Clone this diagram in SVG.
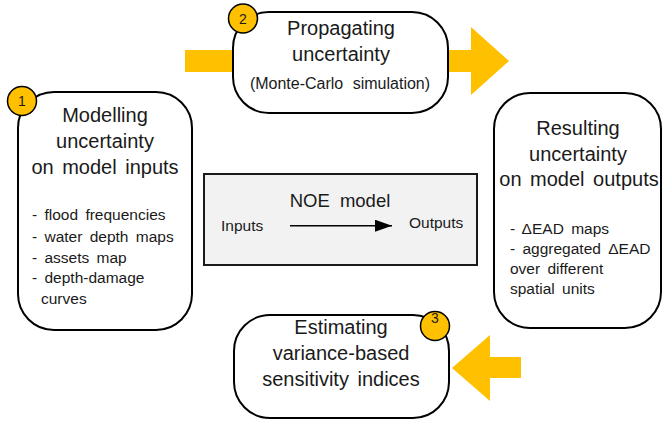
<svg xmlns="http://www.w3.org/2000/svg" width="663" height="423" viewBox="0 0 663 423">
<defs>
<style>
text{font-family:"Liberation Sans",Arial,sans-serif;fill:#1a1a1a}
.box{fill:#fff;stroke:#000;stroke-width:2}
.title{font-size:20px;text-anchor:middle;word-spacing:3px}
.item{font-size:15.5px;word-spacing:3px}
.badge{fill:#FFC000;stroke:#000;stroke-width:1.5}
.num{font-size:14px;text-anchor:middle}
.big{fill:#FFC000}
</style>
<marker id="ah" markerWidth="17" markerHeight="12" refX="17" refY="6" orient="auto" markerUnits="userSpaceOnUse">
<path d="M0,0 L17,6 L0,12 Z" fill="#000"/>
</marker>
</defs>
<rect width="663" height="423" fill="#fff"/>
<g id="connectors">
<polygon class="big" points="185,50 471,50 471,27 509,61 471,95 471,72 185,72"/>
<polygon class="big" points="521,357 490,357 490,335 452,368 490,401 490,378 521,378"/>
</g>
<g id="node-modelling">
<rect class="box" x="18" y="92" width="174" height="238" rx="36" ry="36"/>
<text class="title" x="105" y="122">Modelling</text>
<text class="title" x="105" y="148">uncertainty</text>
<text class="title" x="105" y="174">on model inputs</text>
<text class="item" x="32" y="220">- flood frequencies</text>
<text class="item" x="32" y="241.5">- water depth maps</text>
<text class="item" x="32" y="262.5">- assets map</text>
<text class="item" x="32" y="283">- depth-damage</text>
<text class="item" x="41" y="304">curves</text>
<circle class="badge" cx="22" cy="101" r="14.5"/>
<text class="num" x="22" y="106">1</text>
</g>
<g id="node-propagating">
<rect class="box" x="233" y="12" width="215" height="101" rx="36" ry="36"/>
<text class="title" x="341" y="35">Propagating</text>
<text class="title" x="341" y="61">uncertainty</text>
<text class="title" x="340" y="89" style="font-size:16px;word-spacing:5px">(Monte-Carlo simulation)</text>
<circle class="badge" cx="243" cy="18.5" r="14.5"/>
<text class="num" x="243" y="23.5">2</text>
</g>
<g id="node-resulting">
<rect class="box" x="494" y="93" width="167" height="235" rx="36" ry="36"/>
<text class="title" x="578" y="135">Resulting</text>
<text class="title" x="578" y="161">uncertainty</text>
<text class="title" x="579" y="186">on model outputs</text>
<text class="item" x="510" y="234">- ΔEAD maps</text>
<text class="item" x="510" y="253.5">- aggregated ΔEAD</text>
<text class="item" x="510" y="273.5">over different</text>
<text class="item" x="510" y="294">spatial units</text>
</g>
<g id="node-estimating">
<rect class="box" x="234" y="315" width="215" height="103" rx="36" ry="36"/>
<text class="title" x="341" y="334">Estimating</text>
<text class="title" x="341" y="360">variance-based</text>
<text class="title" x="341" y="386">sensitivity indices</text>
<circle class="badge" cx="435" cy="326" r="14.5"/>
<text class="num" x="435" y="323">3</text>
</g>
<g id="node-noe">
<rect x="204" y="174" width="273" height="91" fill="#f2f2f2" stroke="#1a1a1a" stroke-width="2"/>
<text x="340" y="207" style="font-size:18.5px;text-anchor:middle;word-spacing:5px">NOE model</text>
<text x="221" y="231" style="font-size:15.5px">Inputs</text>
<text x="409" y="228" style="font-size:15.5px">Outputs</text>
<line x1="290" y1="225.7" x2="392" y2="225.7" stroke="#000" stroke-width="1.5" marker-end="url(#ah)"/>
</g>
</svg>
